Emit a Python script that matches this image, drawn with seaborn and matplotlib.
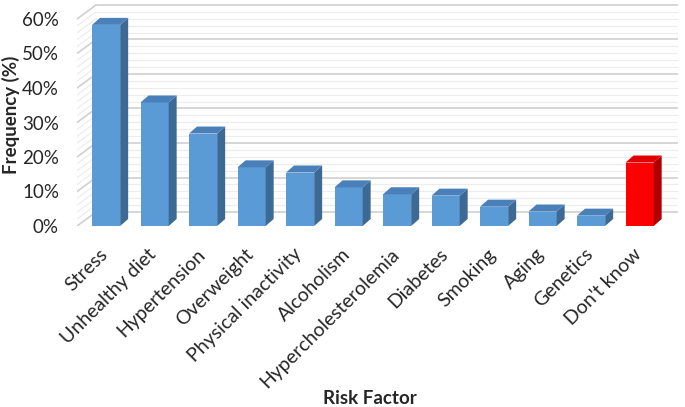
import matplotlib
matplotlib.use("Agg")
import matplotlib.pyplot as plt
import matplotlib.transforms as mtransforms
import seaborn as sns
from matplotlib.patches import Polygon

categories = ["Stress", "Unhealthy diet", "Hypertension", "Overweight",
              "Physical inactivity", "Alcoholism", "Hypercholesterolemia",
              "Diabetes", "Smoking", "Aging", "Genetics", "Don't know"]
values = [58.3, 35.8, 26.8, 17.0, 15.5, 11.2, 9.2, 8.8, 5.6, 4.2, 3.0, 18.4]
y_ticks = [0, 10, 20, 30, 40, 50, 60]
y_tick_labels = ["0%", "10%", "20%", "30%", "40%", "50%", "60%"]

front_cols = ["#5B9BD5"] * 11 + ["#FF0000"]
side_cols = ["#3D6A94"] * 11 + ["#B00000"]
top_cols = ["#4A80BA"] * 11 + ["#E00000"]

sns.set_theme(style="white")
plt.rcParams['font.family'] = ['Lato', 'DejaVu Sans']

W, H = 685, 407
fig = plt.figure(figsize=(W / 100, H / 100), dpi=100)
xlim = (-0.6, 11.8)
ylim = (0, 64.3)
ppx = 48.5   # pixels per category
ppy = 3.45   # pixels per percent
ax_left, ax_bottom = 77, 226
ax = fig.add_axes([ax_left / W, (H - ax_bottom) / H,
                   (xlim[1] - xlim[0]) * ppx / W, (ylim[1] - ylim[0]) * ppy / H])

sns.barplot(x=categories, y=values, hue=categories, palette=front_cols,
            legend=False, width=0.58, ax=ax, saturation=1, zorder=3, linewidth=0)

# 3D depth of bars
dx, dy = 8 / ppx, 7 / ppy
for p, sc, tc in zip(ax.patches, side_cols, top_cols):
    x0, w, h = p.get_x(), p.get_width(), p.get_height()
    x1 = x0 + w
    ax.add_patch(Polygon([(x1, 0), (x1 + dx, dy), (x1 + dx, h + dy), (x1, h)],
                         closed=True, facecolor=sc, edgecolor="none", zorder=3))
    ax.add_patch(Polygon([(x0, h), (x0 + dx, h + dy), (x1 + dx, h + dy), (x1, h)],
                         closed=True, facecolor=tc, edgecolor="none", zorder=3))

# back wall grid
wdx, wdy = 19 / ppx, 14 / ppy
for v in range(0, 61, 2):
    major = v % 10 == 0
    col = "#D0D0D0" if major else "#EDEDED"
    lw = 1.2 if major else 0.9
    ax.plot([xlim[0] + wdx, xlim[1]], [v + wdy, v + wdy], color=col, lw=lw, zorder=1)
    ax.plot([xlim[0], xlim[0] + wdx], [v, v + wdy], color=col, lw=lw, zorder=1)

ax.set_xlim(*xlim)
ax.set_ylim(*ylim)
ax.set_yticks(y_ticks)
ax.set_yticklabels(y_tick_labels, fontsize=13.5)
ax.tick_params(axis="y", length=0, pad=13)
ax.tick_params(axis="x", length=0, pad=4)
ax.set_xticks(range(len(categories)))
ax.set_xticklabels(categories, rotation=45, ha="right", rotation_mode="anchor", fontsize=14)
offset = mtransforms.ScaledTranslation(-7 / 100, -14 / 100, fig.dpi_scale_trans)
for lab in ax.get_xticklabels():
    lab.set_transform(lab.get_transform() + offset)
for s in ax.spines.values():
    s.set_visible(False)
ax.grid(False)

ax.set_ylabel("Frequency (%)", fontsize=13.5, fontweight="bold")
ax.yaxis.set_label_coords(-0.094, 0.5)
ax.set_xlabel("Risk Factor", fontsize=13.5, fontweight="bold")
ax.xaxis.set_label_coords(0.4875, -0.74)

fig.savefig("out.png", dpi=100)
